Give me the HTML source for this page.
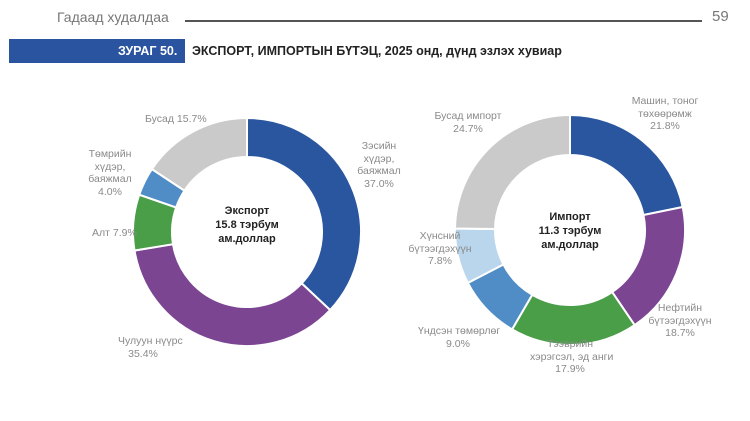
<!DOCTYPE html>
<html><head><meta charset="utf-8"><style>
body{margin:0;width:750px;height:421px;background:#fff;overflow:hidden;font-family:"Liberation Sans",sans-serif;position:relative}
.t{position:absolute;font-size:10.5px;color:#8a8a8a;line-height:12.5px;text-align:center;white-space:nowrap}
.c{position:absolute;font-size:11px;font-weight:bold;color:#222;line-height:14px;text-align:center;white-space:nowrap}
</style></head><body>
<div style="position:absolute;left:57px;top:9px;font-size:14px;color:#777">Гадаад худалдаа</div>
<div style="position:absolute;left:185px;top:20px;width:517px;height:1.5px;background:#555"></div>
<div style="position:absolute;left:712px;top:8px;font-size:15px;color:#777">59</div>
<div style="position:absolute;left:9px;top:39px;width:176px;height:24px;background:#2a53a0"></div>
<div style="position:absolute;left:118px;top:44px;font-size:12.5px;font-weight:bold;color:#fff">ЗУРАГ 50.</div>
<div style="position:absolute;left:192px;top:44px;font-size:12.5px;font-weight:bold;color:#222">ЭКСПОРТ, ИМПОРТЫН БҮТЭЦ, 2025 онд, дүнд эзлэх хувиар</div>
<svg id="s" width="750" height="421" style="position:absolute;left:0;top:0"></svg>
<div class="c" style="left:207px;top:204px;width:80px">Экспорт<br>15.8 тэрбум<br>ам.доллар</div>
<div class="c" style="left:530px;top:210px;width:80px">Импорт<br>11.3 тэрбум<br>ам.доллар</div>
<div class="t" style="left:145px;top:113px">Бусад 15.7%</div>
<div class="t" style="left:343px;top:140px;width:72px">Зэсийн<br>хүдэр,<br>баяжмал<br>37.0%</div>
<div class="t" style="left:80px;top:148px;width:60px">Төмрийн<br>хүдэр,<br>баяжмал<br>4.0%</div>
<div class="t" style="left:92px;top:227px">Алт 7.9%</div>
<div class="t" style="left:118px;top:335px;width:50px">Чулуун нүүрс<br>35.4%</div>
<div class="t" style="left:428px;top:110px;width:80px">Бусад импорт<br>24.7%</div>
<div class="t" style="left:625px;top:95px;width:80px">Машин, тоног<br>төхөөрөмж<br>21.8%</div>
<div class="t" style="left:640px;top:302px;width:80px">Нефтийн<br>бүтээгдэхүүн<br>18.7%</div>
<div class="t" style="left:530px;top:338px;width:80px">Тээврийн<br>хэрэгсэл, эд анги<br>17.9%</div>
<div class="t" style="left:418px;top:325px;width:80px">Үндсэн төмөрлөг<br>9.0%</div>
<div class="t" style="left:400px;top:230px;width:80px">Хүнсний<br>бүтээгдэхүүн<br>7.8%</div>
<script>
function donut(cx,cy,R,r,data){var s=document.getElementById('s'),a=0,h='';
data.forEach(function(d){var a0=a,a1=a+d[0]/100*2*Math.PI;a=a1;
function p(rr,t){return [cx+rr*Math.sin(t),cy-rr*Math.cos(t)]}
var l=(a1-a0)>Math.PI?1:0,A=p(R,a0),B=p(R,a1),C=p(r,a1),D=p(r,a0);
h+='<path d="M'+A+' A'+R+' '+R+' 0 '+l+' 1 '+B+' L'+C+' A'+r+' '+r+' 0 '+l+' 0 '+D+'Z" fill="'+d[1]+'" stroke="#fff" stroke-width="2"/>';});
s.innerHTML+=h;}
donut(247,232,114,75,[[37,'#2a56a0'],[35.4,'#7b4592'],[7.9,'#4a9e48'],[4,'#508dc6'],[15.7,'#cacaca']]);
donut(570,230,115,75,[[21.8,'#2a56a0'],[18.7,'#7b4592'],[17.9,'#4a9e48'],[9,'#508dc6'],[7.8,'#b9d6ec'],[24.8,'#cacaca']]);
</script>
</body></html>
